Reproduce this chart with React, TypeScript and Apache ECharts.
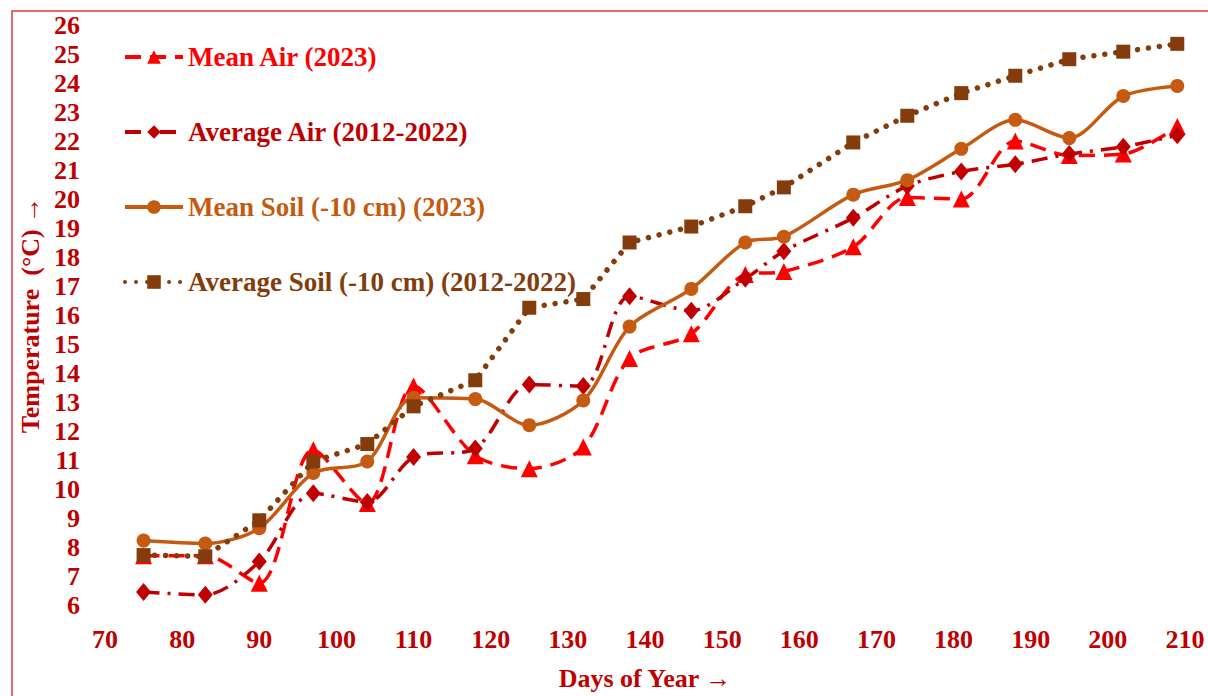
import React, { useEffect, useRef } from "react";
import * as echarts from "echarts";

const days = [75, 83, 90, 97, 104, 110, 118, 125, 132, 138, 146, 153, 158, 167, 174, 181, 188, 195, 202, 209];
const meanAir2023 = [7.7, 7.7, 6.75, 11.35, 9.5, 13.55, 11.15, 10.7, 11.45, 14.5, 15.35, 17.4, 17.5, 18.35, 20.05, 20.0, 22.0, 21.5, 21.55, 22.5];
const avgAir = [6.45, 6.35, 7.5, 9.85, 9.55, 11.1, 11.4, 13.6, 13.55, 16.65, 16.15, 17.25, 18.2, 19.35, 20.45, 20.95, 21.2, 21.55, 21.8, 22.2];
const meanSoil2023 = [8.22, 8.12, 8.65, 10.55, 10.95, 13.15, 13.1, 12.2, 13.05, 15.6, 16.9, 18.5, 18.7, 20.15, 20.65, 21.73, 22.73, 22.1, 23.55, 23.9];
const avgSoil = [7.72, 7.68, 8.92, 10.95, 11.55, 12.85, 13.75, 16.25, 16.55, 18.5, 19.05, 19.75, 20.4, 21.95, 22.87, 23.65, 24.25, 24.82, 25.08, 25.35];

const seriesNames = [
  "Mean Air (2023)",
  "Average Air (2012-2022)",
  "Mean Soil (-10 cm) (2023)",
  "Average Soil (-10 cm) (2012-2022)",
];
const colors = ["#FF0000", "#C00000", "#C55A11", "#843C0C"];

const FONT = "'Liberation Serif', 'Times New Roman', serif";
const AXIS_RED = "#C00000";

function pairs(values: number[]) {
  return days.map((d, i) => [d, values[i]]);
}

export default function App() {
  const ref = useRef<HTMLDivElement>(null);

  useEffect(() => {
    if (!ref.current) return;
    const chart = echarts.init(ref.current, undefined, {
      renderer: "svg",
      width: 1208,
      height: 696,
    });
    const option: any = {
      animation: false,
      backgroundColor: "#ffffff",
      textStyle: { fontFamily: FONT },
      grid: { left: 105, right: 23, top: 25, bottom: 86, containLabel: false },
      graphic: [
        {
          type: "rect",
          z: 0,
          shape: { x: 12, y: 11, width: 1400, height: 900 },
          style: { fill: "none", stroke: "#E0393E", lineWidth: 1.5 },
        },
      ],
      legend: {
        orient: "vertical",
        left: 118,
        top: 37,
        itemWidth: 58,
        itemHeight: 17,
        itemGap: 45,
        lineStyle: { width: 4 },
        textStyle: {
          fontFamily: FONT,
          fontWeight: "bold",
          fontSize: 27,
          lineHeight: 30,
        },
        data: seriesNames.map((n, i) => ({
          name: n,
          textStyle: { color: colors[i] },
        })),
      },
      xAxis: {
        type: "value",
        min: 70,
        max: 210,
        interval: 10,
        name: "Days of Year \u2192",
        nameLocation: "middle",
        nameGap: 60,
        nameTextStyle: {
          color: AXIS_RED,
          fontFamily: FONT,
          fontWeight: "bold",
          fontSize: 26,
        },
        axisLine: { show: false },
        axisTick: { show: false },
        splitLine: { show: false },
        axisLabel: {
          color: AXIS_RED,
          fontFamily: FONT,
          fontWeight: "bold",
          fontSize: 26,
          margin: 21,
        },
      },
      yAxis: {
        type: "value",
        min: 6,
        max: 26,
        interval: 1,
        name: "Temperature  (\u00B0C) \u2192",
        nameLocation: "middle",
        nameGap: 62,
        nameTextStyle: {
          color: AXIS_RED,
          fontFamily: FONT,
          fontWeight: "bold",
          fontSize: 26,
        },
        axisLine: { show: false },
        axisTick: { show: false },
        splitLine: { show: false },
        axisLabel: {
          color: AXIS_RED,
          fontFamily: FONT,
          fontWeight: "bold",
          fontSize: 26,
          margin: 25,
        },
      },
      series: [
        {
          name: seriesNames[0],
          type: "line",
          data: pairs(meanAir2023),
          smooth: 0.3,
          symbol: "triangle",
          symbolSize: 17,
          itemStyle: { color: colors[0] },
          lineStyle: { color: colors[0], width: 3.5, type: [16, 9] },
          z: 2,
        },
        {
          name: seriesNames[1],
          type: "line",
          data: pairs(avgAir),
          smooth: 0.3,
          symbol: "diamond",
          symbolSize: [15, 18],
          itemStyle: { color: colors[1] },
          lineStyle: { color: colors[1], width: 3.5, type: [16, 8, 3, 8] },
          z: 3,
        },
        {
          name: seriesNames[2],
          type: "line",
          data: pairs(meanSoil2023),
          smooth: 0.3,
          symbol: "circle",
          symbolSize: 14,
          itemStyle: { color: colors[2] },
          lineStyle: { color: colors[2], width: 3.5, type: "solid" },
          z: 4,
        },
        {
          name: seriesNames[3],
          type: "line",
          data: pairs(avgSoil),
          smooth: false,
          symbol: "rect",
          symbolSize: 14,
          itemStyle: { color: colors[3] },
          lineStyle: { color: colors[3], width: 5.5, type: [0.01, 11], cap: "round" },
          z: 5,
        },
      ],
    };
    chart.setOption(option);
    return () => chart.dispose();
  }, []);

  return (
    <div
      ref={ref}
      style={{ position: "fixed", left: 0, top: 0, width: 1208, height: 696 }}
    />
  );
}
